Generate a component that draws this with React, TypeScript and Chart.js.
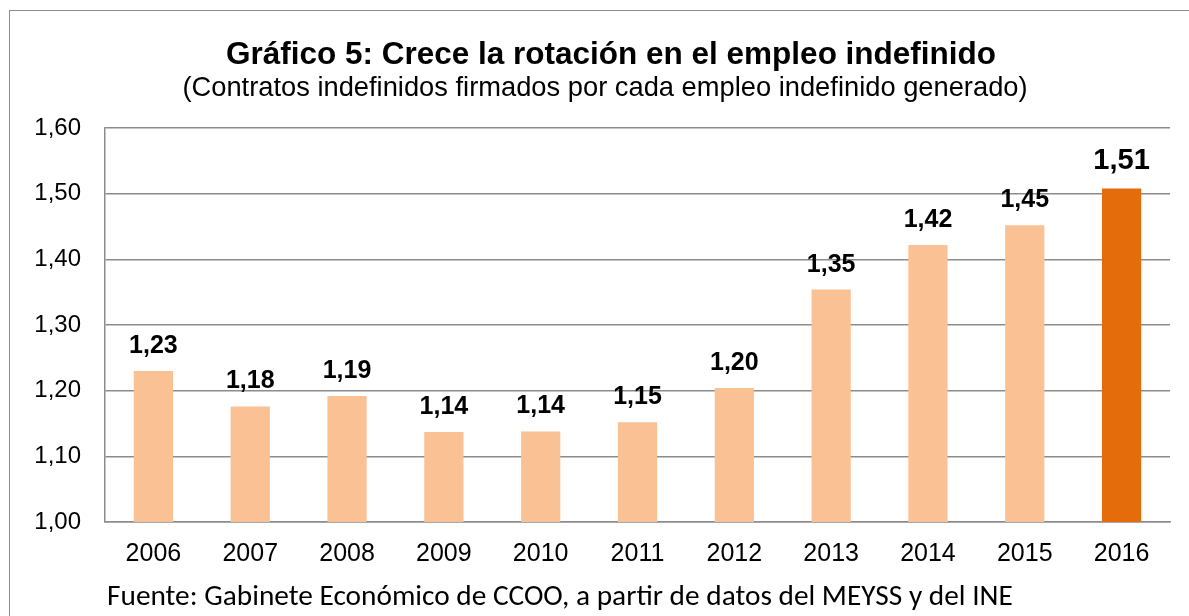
import React, { useEffect, useRef } from "react";
import { Chart, registerables } from "chart.js";

Chart.register(...registerables);

const titleText = "Gráfico 5: Crece la rotación en el empleo indefinido";
const subtitleText = "(Contratos indefinidos firmados por cada empleo indefinido generado)";
const footerText = "Fuente: Gabinete Económico de CCOO, a partir de datos del MEYSS y del INE";

const years = ["2006", "2007", "2008", "2009", "2010", "2011", "2012", "2013", "2014", "2015", "2016"];
const ratios = [1.23, 1.176, 1.192, 1.137, 1.138, 1.152, 1.204, 1.354, 1.422, 1.452, 1.508];
const highlightYear = "2016";
const yTicks = [1.0, 1.1, 1.2, 1.3, 1.4, 1.5, 1.6];

const LIGHT = "#F9C194";
const DARK = "#E46C0A";
const GRID = "#8c8c8c";
const SANS = '"Liberation Sans", Arial, sans-serif';

const fmt = (v: number) => v.toFixed(2).replace(".", ",");

const decorations = {
  id: "decorations",
  beforeDraw(chart: any) {
    const ctx = chart.ctx;
    ctx.save();
    ctx.fillStyle = "#ffffff";
    ctx.fillRect(0, 0, chart.width, chart.height);
    ctx.strokeStyle = GRID;
    ctx.lineWidth = 1;
    ctx.strokeRect(9.5, 10.5, 1400, 800);
    ctx.fillStyle = "#000";
    ctx.textAlign = "center";
    ctx.textBaseline = "alphabetic";
    ctx.font = `bold 31.5px ${SANS}`;
    ctx.fillText(titleText, 611, 64);
    ctx.font = `27.3px ${SANS}`;
    ctx.fillText(subtitleText, 605, 96);
    // footer
    const fam = 'Carlito, Lato, "Open Sans", sans-serif';
    ctx.font = `27px ${fam}`;
    const w = ctx.measureText(footerText).width;
    const size = 27 * 906 / w;
    ctx.font = `${size.toFixed(2)}px ${fam}`;
    ctx.textAlign = "left";
    ctx.fillText(footerText, 107, 605);
    ctx.restore();
  },
  afterDatasetsDraw(chart: any) {
    const ctx = chart.ctx;
    const meta = chart.getDatasetMeta(0);
    ctx.save();
    ctx.fillStyle = "#000";
    ctx.textAlign = "center";
    ctx.textBaseline = "alphabetic";
    meta.data.forEach((bar: any, i: number) => {
      const big = years[i] === highlightYear;
      ctx.font = `bold ${big ? 29 : 25}px ${SANS}`;
      ctx.fillText(fmt(ratios[i]), bar.x, bar.y - (big ? 19 : 18));
    });
    ctx.restore();
  },
};

export default function App() {
  const ref = useRef<HTMLCanvasElement>(null);
  useEffect(() => {
    if (!ref.current) return;
    const chart = new Chart(ref.current, {
      type: "bar",
      data: {
        labels: years,
        datasets: [
          {
            data: ratios,
            backgroundColor: years.map((y) => (y === highlightYear ? DARK : LIGHT)),
            borderWidth: 0,
            barPercentage: 0.405,
            categoryPercentage: 1,
          },
        ],
      },
      options: {
        responsive: false,
        animation: false,
        devicePixelRatio: 1,
        layout: { padding: { left: 0, right: 19, top: 128, bottom: 34 } },
        plugins: {
          legend: { display: false },
          title: { display: false },
          tooltip: { enabled: false },
        },
        scales: {
          x: {
            grid: { display: false, drawTicks: false },
            border: { display: true, color: GRID, width: 1.5 },
            ticks: {
              color: "#000",
              font: { family: SANS, size: 25 },
              padding: 17,
              maxRotation: 0,
              autoSkip: false,
            },
            afterFit: (s: any) => {
              s.height = 60;
            },
          },
          y: {
            min: yTicks[0],
            max: yTicks[yTicks.length - 1],
            afterBuildTicks: (s: any) => {
              s.ticks = yTicks.map((v) => ({ value: v }));
            },
            grid: { color: GRID, lineWidth: 1.5, drawTicks: false },
            border: { display: true, color: GRID, width: 1.5 },
            ticks: {
              color: "#000",
              font: { family: SANS, size: 24 },
              padding: 24,
              callback: (v: any) => fmt(Number(v)),
            },
            afterFit: (s: any) => {
              s.width = 105;
            },
          },
        },
      },
      plugins: [decorations],
    });
    return () => chart.destroy();
  }, []);
  return (
    <canvas
      ref={ref}
      width={1189}
      height={616}
      style={{ position: "fixed", left: 0, top: 0, width: 1189, height: 616 }}
    />
  );
}
